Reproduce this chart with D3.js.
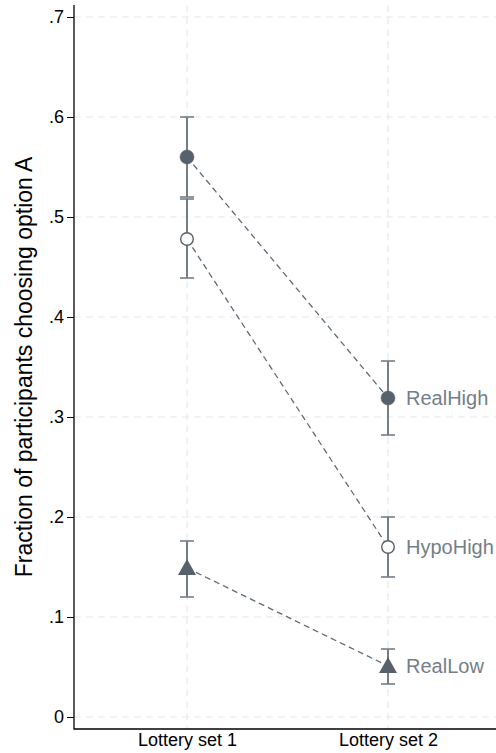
<!DOCTYPE html>
<html><head><meta charset="utf-8">
<script src="https://cdn.jsdelivr.net/npm/d3@7"></script>
<style>body{margin:0;background:#fff}svg{display:block;font-family:"Liberation Sans",Arial,sans-serif}</style>
</head><body><svg id="c" width="496" height="753"></svg>
<script>
const categories = ["Lottery set 1", "Lottery set 2"];
const seriesNames = ["RealHigh", "HypoHigh", "RealLow"];
const realHigh = [0.560, 0.319];
const realHighLo = [0.520, 0.282];
const realHighHi = [0.600, 0.356];
const hypoHigh = [0.478, 0.170];
const hypoHighLo = [0.439, 0.140];
const hypoHighHi = [0.518, 0.200];
const realLow = [0.149, 0.051];
const realLowLo = [0.120, 0.033];
const realLowHi = [0.176, 0.068];
const yTicks = [0, 0.1, 0.2, 0.3, 0.4, 0.5, 0.6, 0.7];
const yTickLabels = ["0", ".1", ".2", ".3", ".4", ".5", ".6", ".7"];

const series = [
  {name: seriesNames[0], v: realHigh, lo: realHighLo, hi: realHighHi, shape: "circle", fill: true},
  {name: seriesNames[1], v: hypoHigh, lo: hypoHighLo, hi: hypoHighHi, shape: "circle", fill: false},
  {name: seriesNames[2], v: realLow, lo: realLowLo, hi: realLowHi, shape: "triangle", fill: true}
];

const svg = d3.select("#c");
const y = d3.scaleLinear().domain([0, 0.7]).range([717, 17]);
const x = d3.scalePoint().domain(categories).range([187, 388]);
const axisX = 74, axisY = 729;
const markColor = "#56616b", barColor = "#737e88", labelColor = "#737e88";
const FF = "Liberation Sans, Arial, sans-serif";

// gridlines
svg.append("g").selectAll("line").data(yTicks).join("line")
  .attr("x1", axisX).attr("x2", 496).attr("y1", d => y(d)).attr("y2", d => y(d))
  .attr("stroke", "#e8e8e8").attr("stroke-width", 1.2).attr("stroke-dasharray", "7,5");
svg.append("g").selectAll("line").data(categories).join("line")
  .attr("x1", d => x(d)).attr("x2", d => x(d)).attr("y1", 5).attr("y2", axisY)
  .attr("stroke", "#e8e8e8").attr("stroke-width", 1.2).attr("stroke-dasharray", "7,5");

// Y axis
const yAxis = d3.axisLeft(y).tickValues(yTicks).tickFormat((d, i) => yTickLabels[i]).tickSize(7).tickSizeOuter(0);
const gy = svg.append("g").attr("transform", `translate(${axisX},0)`).call(yAxis);
gy.select(".domain").remove();
gy.selectAll(".tick line").attr("stroke", "#000");
gy.selectAll(".tick text").attr("font-size", 18).attr("fill", "#000").attr("x", -10)
  .attr("font-family", FF);
svg.append("line").attr("x1", axisX).attr("x2", axisX).attr("y1", 5).attr("y2", axisY + 0.5).attr("stroke", "#000").attr("stroke-width", 1.3);

// X axis
const xAxis = d3.axisBottom(x).tickSize(0).tickSizeOuter(0);
const gx = svg.append("g").attr("transform", `translate(0,${axisY})`).call(xAxis);
gx.select(".domain").remove();
gx.selectAll(".tick line").remove();
gx.selectAll(".tick text").attr("font-size", 18).attr("fill", "#000").attr("y", 4)
  .attr("font-family", FF);
svg.append("line").attr("x1", axisX).attr("x2", 496).attr("y1", axisY).attr("y2", axisY).attr("stroke", "#000").attr("stroke-width", 1.3);

// Y title
svg.append("text").attr("transform", `translate(32,${y(0.35)}) rotate(-90)`)
  .attr("text-anchor", "middle").attr("font-size", 23).attr("fill", "#000").attr("font-family", FF)
  .text("Fraction of participants choosing option A");

const line = d3.line().x((d, i) => x(categories[i])).y(d => y(d));
series.forEach(s => {
  svg.append("path").attr("d", line(s.v)).attr("fill", "none")
    .attr("stroke", "#5f6a74").attr("stroke-width", 1.3).attr("stroke-dasharray", "6,4");
});
series.forEach(s => {
  const g = svg.append("g");
  categories.forEach((c, i) => {
    const cx = x(c);
    g.append("line").attr("x1", cx).attr("x2", cx).attr("y1", y(s.lo[i])).attr("y2", y(s.hi[i]))
      .attr("stroke", barColor).attr("stroke-width", 2);
    [s.lo[i], s.hi[i]].forEach(v => g.append("line").attr("x1", cx - 7).attr("x2", cx + 7)
      .attr("y1", y(v)).attr("y2", y(v)).attr("stroke", barColor).attr("stroke-width", 1.6));
  });
});
series.forEach(s => {
  const g = svg.append("g");
  categories.forEach((c, i) => {
    const cx = x(c), cy = y(s.v[i]);
    if (s.shape === "circle") {
      g.append("circle").attr("cx", cx).attr("cy", cy).attr("r", s.fill ? 7 : 6.3)
        .attr("fill", s.fill ? markColor : "#fff").attr("stroke", markColor).attr("stroke-width", s.fill ? 0.5 : 1.4);
    } else {
      g.append("path").attr("transform", `translate(${cx},${cy})`)
        .attr("d", "M0,-9 L9,7 L-9,7 Z").attr("fill", markColor);
    }
  });
  svg.append("text").attr("x", x(categories[1]) + 18).attr("y", y(s.v[1])).attr("dy", "0.35em")
    .attr("font-size", 20).attr("fill", labelColor).attr("font-family", FF).text(s.name);
});
</script></body></html>
